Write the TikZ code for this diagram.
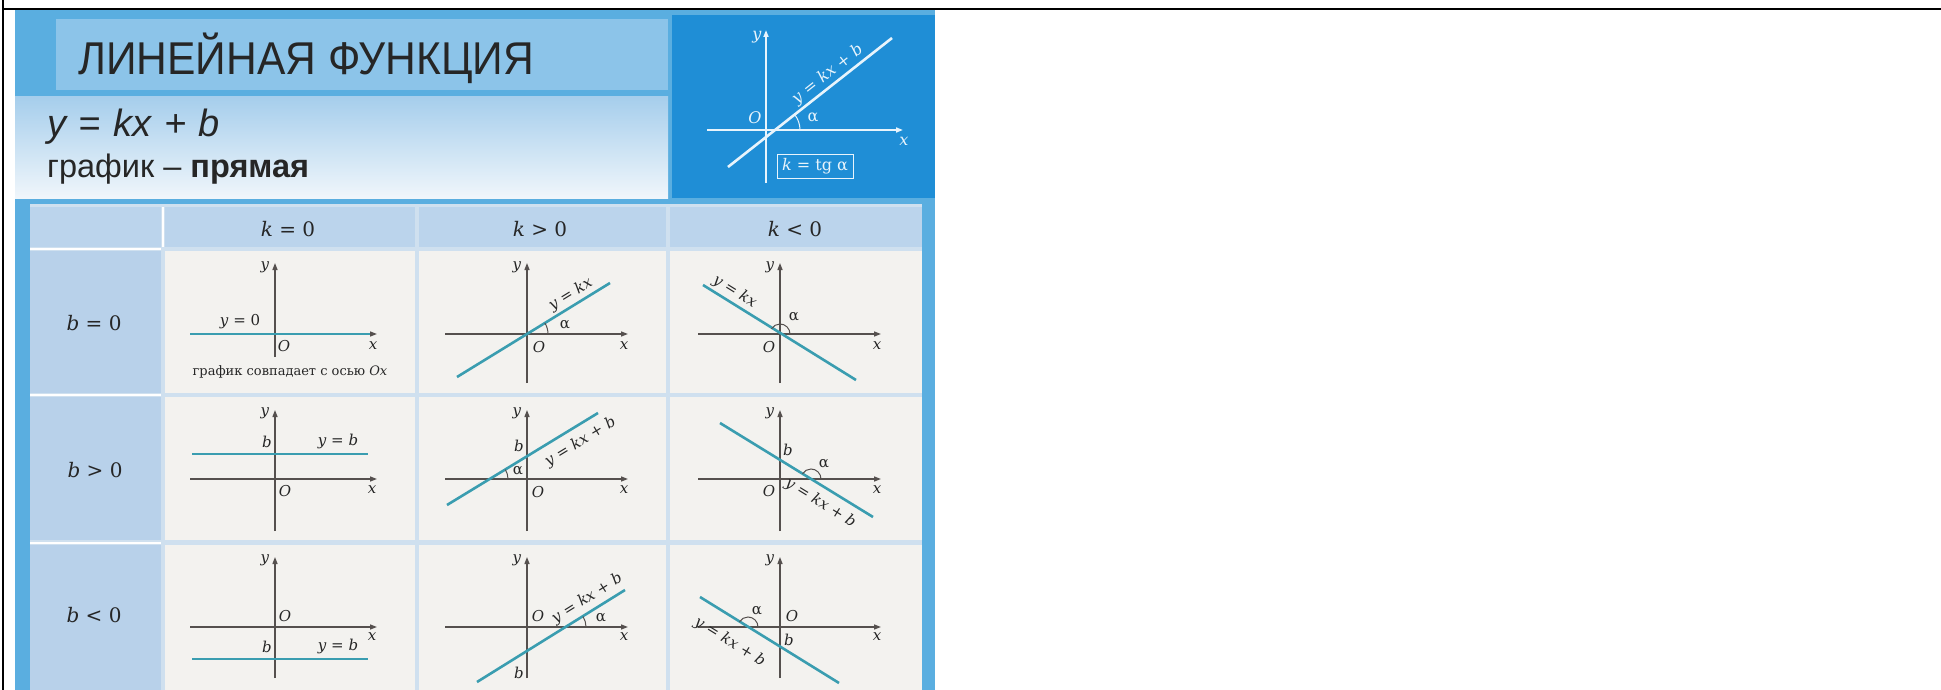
\documentclass[tikz,border=0pt]{standalone}
\usepackage{fontspec}
\usepackage{graphicx}
\setmainfont{DejaVu Serif}
\newfontfamily\sansf{Liberation Sans}
\usetikzlibrary{arrows.meta}
\definecolor{frameblue}{HTML}{5AAEE0}
\definecolor{titlebar}{HTML}{8CC4E9}
\definecolor{panelblue}{HTML}{1F8ED6}
\definecolor{hdr}{HTML}{BBD4EC}
\definecolor{leftc}{HTML}{B8D1EA}
\definecolor{cellbg}{HTML}{F3F2EF}
\definecolor{gridc}{HTML}{CFE0EF}
\definecolor{axisc}{HTML}{55504E}
\definecolor{linec}{HTML}{3A9DB0}
\definecolor{txt}{HTML}{262626}
\definecolor{subtop}{HTML}{A6CEEC}
\definecolor{subbot}{HTML}{F0F6FB}
\definecolor{wline}{HTML}{E8F4FC}
\newcommand\mv[1]{\textit{#1}}
\newcommand\axesxy[6]{% ox oy xl xr ytop ybot
  \draw[ax] (#3,#2) -- (#4,#2);
  \draw[ax] (#1,#6) -- (#1,#5);}
\tikzset{
  ax/.style={draw=axisc, line width=1.3pt, -{Triangle[length=7pt,width=5pt]}},
  gl/.style={draw=linec, line width=2.6pt},
  lb/.style={text=txt, inner sep=0pt, font=\fontsize{15}{15}\selectfont},
  hl/.style={text=txt, inner sep=0pt, font=\fontsize{20}{20}\selectfont},
  arcs/.style={draw=axisc, line width=1pt},
  wax/.style={draw=wline, line width=1.6pt, -{Triangle[length=7pt,width=5pt]}},
  wl/.style={text=wline, inner sep=0pt, font=\fontsize{16}{16}\selectfont},
}
\begin{document}
\begin{tikzpicture}[x=1pt,y=-1pt]
\useasboundingbox (0,0) rectangle (1941,690);
% outer frame lines
\draw[line width=2.6pt] (3,0) -- (3,690);
\draw[line width=2.6pt] (2,9) -- (1941,9);
% panels
\fill[frameblue] (15,10.3) rectangle (935,690);
\fill[titlebar] (56,19) rectangle (668,90);
\shade[top color=subtop,bottom color=subbot] (15,97) rectangle (668,198);
\fill[panelblue] (672,15) rectangle (935,198);
% title texts
\node[anchor=base west, inner sep=0, text=black!85] (title) at (78,75)
  {\sansf\fontsize{46}{46}\selectfont\scalebox{0.925}[1]{ЛИНЕЙНАЯ ФУНКЦИЯ}};
\node[anchor=base west, inner sep=0, text=black!85] (formula) at (47,137)
  {\sansf\itshape\fontsize{38}{38}\selectfont y\hspace{0.33em}=\hspace{0.33em}kx\hspace{0.33em}+\hspace{0.33em}b};
\node[anchor=base west, inner sep=0, text=black!85] (graphword) at (47,178)
  {\sansf\fontsize{32.5}{32.5}\selectfont график – \textbf{прямая}};
% right panel graph
\draw[wax] (766,183) -- (766,30);
\draw[wax] (707,130) -- (903,130);
\draw[draw=wline, line width=2.6pt] (728,167) -- (892,38)
  node[wl, pos=0.65, sloped, above=2pt] (pf) {\mv{y} = \mv{kx} + \mv{b}};
\draw[draw=wline, line width=1pt] (800,130) arc[start angle=0,end angle=-38.2,radius=25];
\node[wl] (py) at (757,37) {\mv{y}};
\node[wl] (pO) at (755,118) {\mv{O}};
\node[wl] (pa) at (813,118) {α};
\node[wl] (px) at (904,141) {\mv{x}};
\node[wl, draw=wline, line width=0.8pt, minimum width=76pt, minimum height=24pt] (pk) at (815,166) {\mv{k} = tg α};
% table background
\fill[gridc] (30,204) rectangle (922,690);
\fill[hdr] (30,207) rectangle (161,247);
\fill[hdr] (165,207) rectangle (415,247);
\fill[hdr] (419,207) rectangle (666,247);
\fill[hdr] (670,207) rectangle (922,247);
\draw[white, line width=2pt] (163,207) -- (163,247);
\foreach \ya/\yb in {251/393, 397/540, 545/690}{
  \fill[leftc] (30,\ya) rectangle (161,\yb);
  \fill[cellbg] (165,\ya) rectangle (415,\yb);
  \fill[cellbg] (419,\ya) rectangle (666,\yb);
  \fill[cellbg] (670,\ya) rectangle (922,\yb);
}
\draw[white, line width=2.5pt] (30,249) -- (161,249);
\draw[white, line width=2.5pt] (30,395) -- (161,395);
\draw[white, line width=2.5pt] (30,543) -- (161,543);
% headers
\node[hl] (h1) at (288,229) {\mv{k} = 0};
\node[hl] (h2) at (540,229) {\mv{k} > 0};
\node[hl] (h3) at (795,229) {\mv{k} < 0};
\node[hl] (r1) at (94,323) {\mv{b} = 0};
\node[hl] (r2) at (95,470) {\mv{b} > 0};
\node[hl] (r3) at (94,615) {\mv{b} < 0};
% ---- cell (1,1)
\axesxy{275}{334}{190}{377}{263}{357}
\draw[gl] (190,334) -- (370,334);
\node[lb] (c11y) at (265,267) {\mv{y}};
\node[lb] (c11f) at (240,322) {\mv{y} = 0};
\node[lb] (c11O) at (284,346) {\mv{O}};
\node[lb] (c11x) at (373,346) {\mv{x}};
\node[lb, font=\fontsize{13}{13}\selectfont] (c11c) at (290,372) {график совпадает с осью \mv{Ox}};
% ---- cell (1,2)
\axesxy{527}{334}{445}{628}{263}{383}
\draw[gl] (457,377) -- (610,283) node[lb, pos=0.78, sloped, above=2pt] (c12f) {\mv{y} = \mv{kx}};
\draw[arcs] (548,334) arc[start angle=0,end angle=-31.6,radius=21];
\node[lb] (c12y) at (517,267) {\mv{y}};
\node[lb] (c12O) at (539,347) {\mv{O}};
\node[lb] (c12a) at (565,325) {α};
\node[lb] (c12x) at (624,346) {\mv{x}};
% ---- cell (1,3)
\axesxy{780}{334}{698}{881}{263}{383}
\draw[gl] (703,285) -- (856,380) node[lb, pos=0.17, sloped, above=2pt] (c13f) {\mv{y} = \mv{kx}};
\draw[arcs] (790,334) arc[start angle=0,end angle=-148.4,radius=10];
\node[lb] (c13y) at (770,267) {\mv{y}};
\node[lb] (c13O) at (769,347) {\mv{O}};
\node[lb] (c13a) at (794,317) {α};
\node[lb] (c13x) at (877,346) {\mv{x}};
% ---- cell (2,1)
\axesxy{275}{479}{190}{377}{410}{531}
\draw[gl] (192,454) -- (368,454);
\node[lb] (c21y) at (265,413) {\mv{y}};
\node[lb] (c21b) at (267,442) {\mv{b}};
\node[lb] (c21f) at (338,441) {\mv{y} = \mv{b}};
\node[lb] (c21O) at (285,491) {\mv{O}};
\node[lb] (c21x) at (372,490) {\mv{x}};
% ---- cell (2,2)
\axesxy{527}{479}{445}{628}{410}{531}
\draw[gl] (447,505) -- (598,413) node[lb, pos=0.83, sloped, below=7pt] (c22f) {\mv{y} = \mv{kx} + \mv{b}};
\draw[arcs] (508,479) arc[start angle=0,end angle=-31.6,radius=18];
\node[lb] (c22y) at (517,413) {\mv{y}};
\node[lb] (c22b) at (519,446) {\mv{b}};
\node[lb] (c22a) at (518,471) {α};
\node[lb] (c22O) at (538,492) {\mv{O}};
\node[lb] (c22x) at (624,490) {\mv{x}};
% ---- cell (2,3)
\axesxy{780}{479}{698}{881}{410}{531}
\draw[gl] (720,423) -- (873,517) node[lb, pos=0.71, sloped, below=7pt] (c23f) {\mv{y} = \mv{kx} + \mv{b}};
\draw[arcs] (821,479) arc[start angle=0,end angle=-148.4,radius=10];
\node[lb] (c23y) at (770,413) {\mv{y}};
\node[lb] (c23b) at (788,450) {\mv{b}};
\node[lb] (c23a) at (824,464) {α};
\node[lb] (c23O) at (769,491) {\mv{O}};
\node[lb] (c23x) at (877,490) {\mv{x}};
% ---- cell (3,1)
\axesxy{275}{627}{190}{377}{557}{678}
\draw[gl] (192,659) -- (368,659);
\node[lb] (c31y) at (265,560) {\mv{y}};
\node[lb] (c31O) at (285,616) {\mv{O}};
\node[lb] (c31b) at (267,647) {\mv{b}};
\node[lb] (c31f) at (338,646) {\mv{y} = \mv{b}};
\node[lb] (c31x) at (372,637) {\mv{x}};
% ---- cell (3,2)
\axesxy{527}{627}{445}{628}{557}{678}
\draw[gl] (477,682) -- (625,590) node[lb, pos=0.79, sloped, above=4pt] (c32f) {\mv{y} = \mv{kx} + \mv{b}};
\draw[arcs] (586,627) arc[start angle=0,end angle=-31.6,radius=20];
\node[lb] (c32y) at (517,560) {\mv{y}};
\node[lb] (c32O) at (538,616) {\mv{O}};
\node[lb] (c32b) at (519,673) {\mv{b}};
\node[lb] (c32a) at (601,618) {α};
\node[lb] (c32x) at (624,637) {\mv{x}};
% ---- cell (3,3)
\axesxy{780}{627}{698}{881}{557}{678}
\draw[gl] (700,597) -- (839,683) node[lb, pos=0.3, sloped, below=14pt] (c33f) {\mv{y} = \mv{kx} + \mv{b}};
\draw[arcs] (758,627) arc[start angle=0,end angle=-148.4,radius=10];
\node[lb] (c33y) at (770,560) {\mv{y}};
\node[lb] (c33a) at (757,611) {α};
\node[lb] (c33O) at (792,616) {\mv{O}};
\node[lb] (c33b) at (789,640) {\mv{b}};
\node[lb] (c33x) at (877,637) {\mv{x}};
\end{tikzpicture}
\end{document}
